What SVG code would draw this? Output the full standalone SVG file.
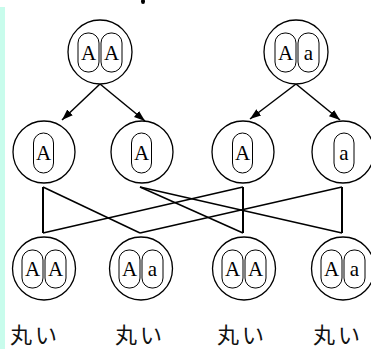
<svg xmlns="http://www.w3.org/2000/svg" width="371" height="349" viewBox="0 0 371 349">
<defs>
<style>
.c{fill:#fff;stroke:#000;stroke-width:1.3}
.p{fill:#fff;stroke:#000;stroke-width:1}
.t{font-family:"Liberation Serif","Times New Roman",serif;font-size:21px;text-anchor:middle;fill:#000}
.l{font-family:"Noto Sans CJK JP",sans-serif;font-size:22px;letter-spacing:3px;fill:#111}
.e{stroke:#000;stroke-width:1.5;fill:none}
.v{stroke:#000;stroke-width:2;fill:none}
</style>
<marker id="ah" markerUnits="userSpaceOnUse" markerWidth="12" markerHeight="10" refX="11" refY="4" orient="auto">
<path d="M0,0 L11,4 L0,8 z" fill="#000"/>
</marker>
</defs>
<rect width="371" height="349" fill="#fff"/>
<rect x="0" y="7" width="5" height="342" fill="#c8fcec"/>
<ellipse cx="143" cy="1.5" rx="2" ry="2.5" fill="#000"/>
<g id="connectors">
<line class="e" x1="100" y1="84" x2="62" y2="120" marker-end="url(#ah)"/>
<line class="e" x1="100" y1="84" x2="145" y2="121" marker-end="url(#ah)"/>
<line class="e" x1="296" y1="84" x2="250" y2="119" marker-end="url(#ah)"/>
<line class="e" x1="296" y1="84" x2="340" y2="120" marker-end="url(#ah)"/>
<line class="v" x1="43" y1="187" x2="43" y2="233"/>
<line class="e" x1="43" y1="187" x2="140" y2="233"/>
<line class="e" x1="140" y1="187" x2="243" y2="233"/>
<line class="e" x1="140" y1="187" x2="342" y2="233"/>
<line class="e" x1="243" y1="187" x2="43" y2="233"/>
<line class="v" x1="243" y1="187" x2="243" y2="233"/>
<line class="e" x1="342" y1="187" x2="140" y2="233"/>
<line class="v" x1="342" y1="187" x2="342" y2="233"/>
</g>
<g id="p1">
<circle class="c" cx="100" cy="52" r="32"/>
<rect class="p" x="78" y="33" width="21" height="39" rx="10"/>
<rect class="p" x="101" y="33" width="21" height="39" rx="10"/>
<text class="t" x="88.5" y="60">A</text>
<text class="t" x="111.5" y="60">A</text>
</g>
<g id="p2">
<circle class="c" cx="296" cy="52" r="32"/>
<rect class="p" x="275" y="33" width="21" height="39" rx="10"/>
<rect class="p" x="298" y="33" width="21" height="39" rx="10"/>
<text class="t" x="285.5" y="60">A</text>
<text class="t" x="308.5" y="60">a</text>
</g>
<g id="m1">
<circle class="c" cx="44" cy="152" r="31"/>
<rect class="p" x="33.5" y="133" width="20" height="40" rx="10"/>
<text class="t" x="43.5" y="160">A</text>
</g>
<g id="m2">
<circle class="c" cx="142" cy="152" r="31"/>
<rect class="p" x="131.5" y="133" width="20" height="40" rx="10"/>
<text class="t" x="141.5" y="160">A</text>
</g>
<g id="m3">
<circle class="c" cx="243" cy="152" r="31"/>
<rect class="p" x="232.5" y="133" width="20" height="40" rx="10"/>
<text class="t" x="242.5" y="160">A</text>
</g>
<g id="m4">
<circle class="c" cx="343" cy="152" r="31"/>
<rect class="p" x="334" y="133" width="20" height="40" rx="10"/>
<text class="t" x="344" y="160">a</text>
</g>
<g id="b1">
<circle class="c" cx="44" cy="268.5" r="31.5"/>
<rect class="p" x="22" y="250" width="21" height="38" rx="10"/>
<rect class="p" x="45" y="250" width="21" height="38" rx="10"/>
<text class="t" x="32.5" y="276">A</text>
<text class="t" x="55.5" y="276">A</text>
</g>
<g id="b2">
<circle class="c" cx="141" cy="268.5" r="31.5"/>
<rect class="p" x="119" y="250" width="21" height="38" rx="10"/>
<rect class="p" x="142" y="250" width="21" height="38" rx="10"/>
<text class="t" x="129.5" y="276">A</text>
<text class="t" x="152.5" y="276">a</text>
</g>
<g id="b3">
<circle class="c" cx="244" cy="268.5" r="31.5"/>
<rect class="p" x="222" y="250" width="21" height="38" rx="10"/>
<rect class="p" x="245" y="250" width="21" height="38" rx="10"/>
<text class="t" x="232.5" y="276">A</text>
<text class="t" x="255.5" y="276">A</text>
</g>
<g id="b4">
<circle class="c" cx="343" cy="268.5" r="31.5"/>
<rect class="p" x="321" y="250" width="21" height="38" rx="10"/>
<rect class="p" x="344" y="250" width="21" height="38" rx="10"/>
<text class="t" x="331.5" y="276">A</text>
<text class="t" x="354.5" y="276">a</text>
</g>
<g id="labels">
<text class="l" x="10" y="343">丸い</text>
<text class="l" x="115" y="343">丸い</text>
<text class="l" x="217" y="343">丸い</text>
<text class="l" x="313" y="343">丸い</text>
</g>
</svg>
